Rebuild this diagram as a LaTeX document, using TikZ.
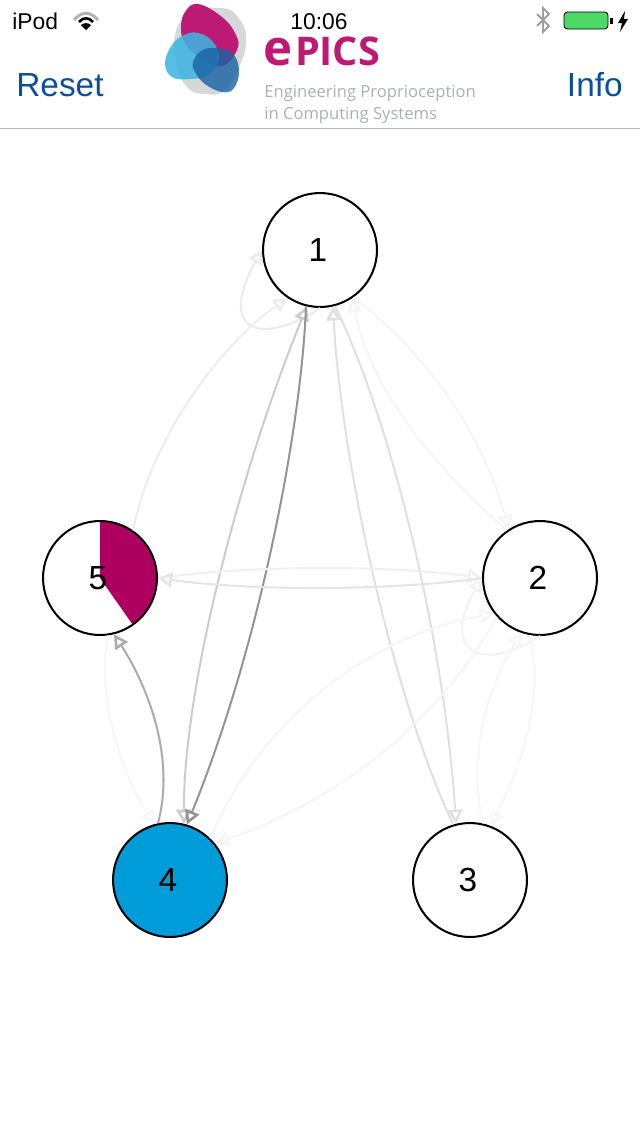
\documentclass[tikz,border=0pt]{standalone}
\usepackage{fontspec}
\setmainfont{Liberation Sans}
\newfontfamily\logofont{Open Sans}
\usetikzlibrary{arrows.meta}
\definecolor{barblue}{HTML}{0B4F9B}
\definecolor{logomag}{HTML}{BC1A74}
\definecolor{logogray}{HTML}{D5D8D8}
\definecolor{logolight}{HTML}{3FB4E0}
\definecolor{logodark}{HTML}{1B63A5}
\definecolor{subgray}{HTML}{ACAFB1}
\definecolor{wedgemag}{HTML}{AE005F}
\definecolor{fillblue}{HTML}{009CD9}
\definecolor{battgreen}{HTML}{4CD964}
\newcommand{\vlabel}[1]{#1\kern2.3pt}
\tikzset{
  vertex/.style={circle,draw=black,line width=1.15pt,minimum size=2.28cm,inner sep=0pt,font=\fontsize{19}{19}\selectfont},
  link/.style={-{Triangle[open,length=8pt,width=8.5pt,line width=1.5pt]},line width=1.15pt,draw=#1},
  barlabel/.style={inner sep=0pt,text=barblue,font=\fontsize{19}{19}\selectfont},
  statuslabel/.style={inner sep=0pt,font=\fontsize{13}{13}\selectfont},
  sublabel/.style={inner sep=0pt,anchor=west,text=subgray,font=\logofont\fontsize{9.45}{9.45}\selectfont}
}
\begin{document}
\begin{tikzpicture}[x=0.02cm,y=-0.02cm]
\useasboundingbox (0,0) rectangle (640,1136);
\fill[logogray] plot[smooth cycle,tension=0.8] coordinates {(222,8) (240,20) (246,40) (240,65) (225,90) (205,94) (188,88) (178,68) (175,35) (190,15)};
\fill[logomag] plot[smooth cycle,tension=0.7] coordinates {(198,4) (222,17) (236,35) (237,50) (222,66) (200,58) (185,43) (181,28) (185,12)};
\fill[logolight,opacity=0.88] plot[smooth cycle,tension=0.7] coordinates {(198,33) (213,42) (219,60) (208,75) (190,79) (172,77) (165,63) (172,45) (184,35)};
\fill[logodark,opacity=0.82] plot[smooth cycle,tension=0.7] coordinates {(215,48) (232,53) (239,70) (234,88) (222,92) (205,84) (195,72) (193,62) (201,51)};
\node (brand) [inner sep=0pt,anchor=base west,text=logomag,font=\logofont\bfseries\fontsize{22.5}{22.5}\selectfont] at (263,65) {{\fontsize{28}{28}\selectfont e}\kern1.5ptPICS};
\node (sub1) [sublabel] at (264,93) {Engineering Proprioception};
\node (sub2) [sublabel] at (264,115) {in Computing Systems};
\node (carrier) [statuslabel,anchor=base west] at (12,29) {iPod};
\node (clock) [statuslabel,anchor=base] at (319,29) {10:06};
\node (reset) [barlabel,anchor=base west] at (16,96) {Reset};
\node (info) [barlabel,anchor=base east] at (623,96) {Info};
\draw[line width=1.7pt,draw=black!30] (74,20) .. controls (82,11) and (90,11) .. (98,20);
\draw[line width=1.5pt] (79,22) .. controls (84,17) and (88,17) .. (93,22);
\fill (81,25) .. controls (84,22.5) and (88,22.5) .. (91,25) -- (86,30) -- cycle;
\draw[line width=1.1pt,draw=black!38] (537,14) -- (549,26) -- (543,32) -- (543,8) -- (549,14) -- (537,26);
\draw[fill=battgreen,line width=0.5pt,rounded corners=2pt] (564,12) rectangle (608,29);
\fill (610,18) rectangle (613,24);
\fill (625,11) -- (618,23) -- (622,23) -- (620,32) -- (628,19) -- (624,19) -- cycle;
\draw[black!28,line width=0.5pt] (0,128) -- (640,128);
\coordinate (c5) at (100,578);
\fill[wedgemag] (c5) -- ++(0,-57) arc[start angle=90,end angle=-55,radius=1.14cm] -- cycle;
\node (n1) [vertex] at (320,250) {\vlabel{1}};
\node (n2) [vertex] at (540,578) {\vlabel{2}};
\node (n3) [vertex] at (470,880) {\vlabel{3}};
\node (n4) [vertex,fill=fillblue] at (170,880) {\vlabel{4}};
\node (n5) [vertex] at (100,578) {\vlabel{5}};
\draw[link=black!8] (n1.270) .. controls (265,345) and (215,335) .. (n1.180);
\draw[link=black!7] (n5.55) .. controls (150,440) and (220,345) .. (n1.236);
\draw[link=black!20,{Triangle[open,length=8pt,width=8.5pt,line width=1.5pt]}-{Triangle[open,length=8pt,width=8.5pt,line width=1.5pt]}] (n4.76) .. controls (183,690) and (240,470) .. (n1.257);
\draw[link=black!42] (n1.256) .. controls (302,420) and (262,640) .. (n4.73);
\draw[link=black!12] (n3.107) .. controls (390,690) and (340,450) .. (n1.283);
\draw[link=black!12] (n1.285) .. controls (395,430) and (445,650) .. (n3.104);
\draw[link=black!4] (n1.305) .. controls (430,355) and (485,440) .. (n2.123);
\draw[link=black!4] (n2.125) .. controls (440,470) and (375,400) .. (n1.303);
\draw[link=black!6] (n5.0) .. controls (250,565) and (390,565) .. (n2.180);
\draw[link=black!10] (n2.180) .. controls (390,591) and (250,591) .. (n5.0);
\draw[link=black!33] (n4.102) .. controls (175,760) and (150,690) .. (n5.284);
\draw[link=black!3] (n5.278) .. controls (95,700) and (125,780) .. (n4.105);
\draw[link=black!5] (n2.270) .. controls (480,675) and (440,650) .. (n2.180);
\draw[link=black!4] (n4.46) .. controls (260,720) and (370,635) .. (n2.218);
\draw[link=black!4] (n2.222) .. controls (440,720) and (340,800) .. (n4.39);
\draw[link=black!3] (n2.260) .. controls (545,700) and (520,770) .. (n3.70);
\draw[link=black!3] (n3.77) .. controls (468,760) and (485,690) .. (n2.252);
\end{tikzpicture}
\end{document}
